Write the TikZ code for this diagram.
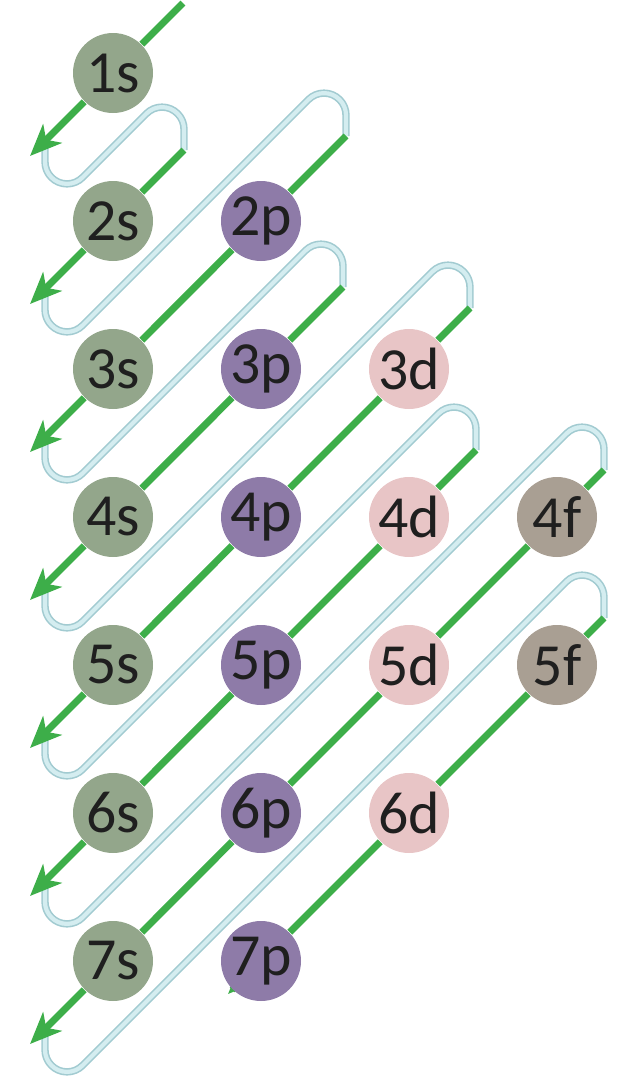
\documentclass[tikz,border=0pt]{standalone}
\usepackage{fontspec}
\setmainfont{Carlito}
\usetikzlibrary{arrows.meta,backgrounds}

\definecolor{sgreen}{HTML}{93A68B}
\definecolor{ppurple}{HTML}{8E7BA8}
\definecolor{dpink}{HTML}{E8C5C6}
\definecolor{ftaupe}{HTML}{A99F93}
\definecolor{arrowgreen}{HTML}{3DAE49}
\definecolor{loopedge}{HTML}{A2CBD1}
\definecolor{loopfill}{HTML}{D4EDF0}

\begin{document}
\begin{tikzpicture}[
  orbital/.style={circle,minimum size=0.8cm,inner sep=0pt,text=black!88,
    font=\fontsize{17}{20}\selectfont},
  sblock/.style={orbital,fill=sgreen},
  pblock/.style={orbital,fill=ppurple},
  dblock/.style={orbital,fill=dpink},
  fblock/.style={orbital,fill=ftaupe},
  filling/.style={draw=arrowgreen,line width=2pt,
    -{Stealth[length=9pt,width=7.5pt,inset=2.5pt]}},
  turn/.style={draw=loopedge,line width=0.45pt,double=loopfill,
    double distance=1.2pt,line join=round}]
\useasboundingbox (-1.13,0.73) rectangle (5.06,-10.15);

\def\grid{1.48}
\def\rad{0.22}
\def\xL{-0.68}
\def\xT{-0.83}

\node[sblock] (1s) at (0,0) {1s};
\node[sblock] (2s) at (0,{-\grid}) {2s};
\node[sblock] (3s) at (0,{-2*\grid}) {3s};
\node[sblock] (4s) at (0,{-3*\grid}) {4s};
\node[sblock] (5s) at (0,{-4*\grid}) {5s};
\node[sblock] (6s) at (0,{-5*\grid}) {6s};
\node[sblock] (7s) at (0,{-6*\grid}) {7s};

\node[pblock] (2p) at (\grid,{-\grid}) {2p};
\node[pblock] (3p) at (\grid,{-2*\grid}) {3p};
\node[pblock] (4p) at (\grid,{-3*\grid}) {4p};
\node[pblock] (5p) at (\grid,{-4*\grid}) {5p};
\node[pblock] (6p) at (\grid,{-5*\grid}) {6p};
\node[pblock] (7p) at (\grid,{-6*\grid}) {7p};

\node[dblock] (3d) at ({2*\grid},{-2*\grid}) {3d};
\node[dblock] (4d) at ({2*\grid},{-3*\grid}) {4d};
\node[dblock] (5d) at ({2*\grid},{-4*\grid}) {5d};
\node[dblock] (6d) at ({2*\grid},{-5*\grid}) {6d};

\node[fblock] (4f) at ({3*\grid},{-3*\grid}) {4f};
\node[fblock] (5f) at ({3*\grid},{-4*\grid}) {5f};

\coordinate (a1) at (0.70,0.70);
\coordinate (a2) at (0.71,{0.71-\grid});
\coordinate (a3) at (2.33,{2.33-2*\grid});
\coordinate (a4) at (2.30,{2.30-3*\grid});
\coordinate (a5) at (3.57,{3.57-4*\grid});
\coordinate (a6) at (3.63,{3.63-5*\grid});
\coordinate (a7) at (4.91,{4.91-6*\grid});
\coordinate (a8) at (4.91,{4.91-7*\grid});

\foreach \m in {1,...,7}
  \coordinate (b\m) at (\xT,{\xT-(\m-1)*\grid});
\coordinate (b8) at ({\grid-0.33},{-6*\grid-0.33});

\begin{scope}[on background layer]
\foreach \lp/\nxt/\xr in {1/2/0.71,2/3/2.33,3/4/2.30,4/5/3.57,5/6/3.63,6/7/4.91,7/8/4.91}
  \draw[turn] (\xL,{\xL-(\lp-1)*\grid}) -- (\xL,{\xL+2.414*\rad-(\lp-0.5)*\grid})
    arc[start angle=180,end angle=315,radius=\rad]
    -- ({\xr-1.707*\rad},{\xr-1.707*\rad-(\lp-0.5)*\grid})
    arc[start angle=135,end angle=0,radius=\rad] -- (a\nxt);

\draw[filling] (a1) -- (1s) -- (b1);
\draw[filling] (a2) -- (2s) -- (b2);
\draw[filling] (a3) -- (2p) -- (3s) -- (b3);
\draw[filling] (a4) -- (3p) -- (4s) -- (b4);
\draw[filling] (a5) -- (3d) -- (4p) -- (5s) -- (b5);
\draw[filling] (a6) -- (4d) -- (5p) -- (6s) -- (b6);
\draw[filling] (a7) -- (4f) -- (5d) -- (6p) -- (7s) -- (b7);
\draw[filling] (a8) -- (5f) -- (6d) -- (7p) -- (b8);
\end{scope}

\end{tikzpicture}
\end{document}
